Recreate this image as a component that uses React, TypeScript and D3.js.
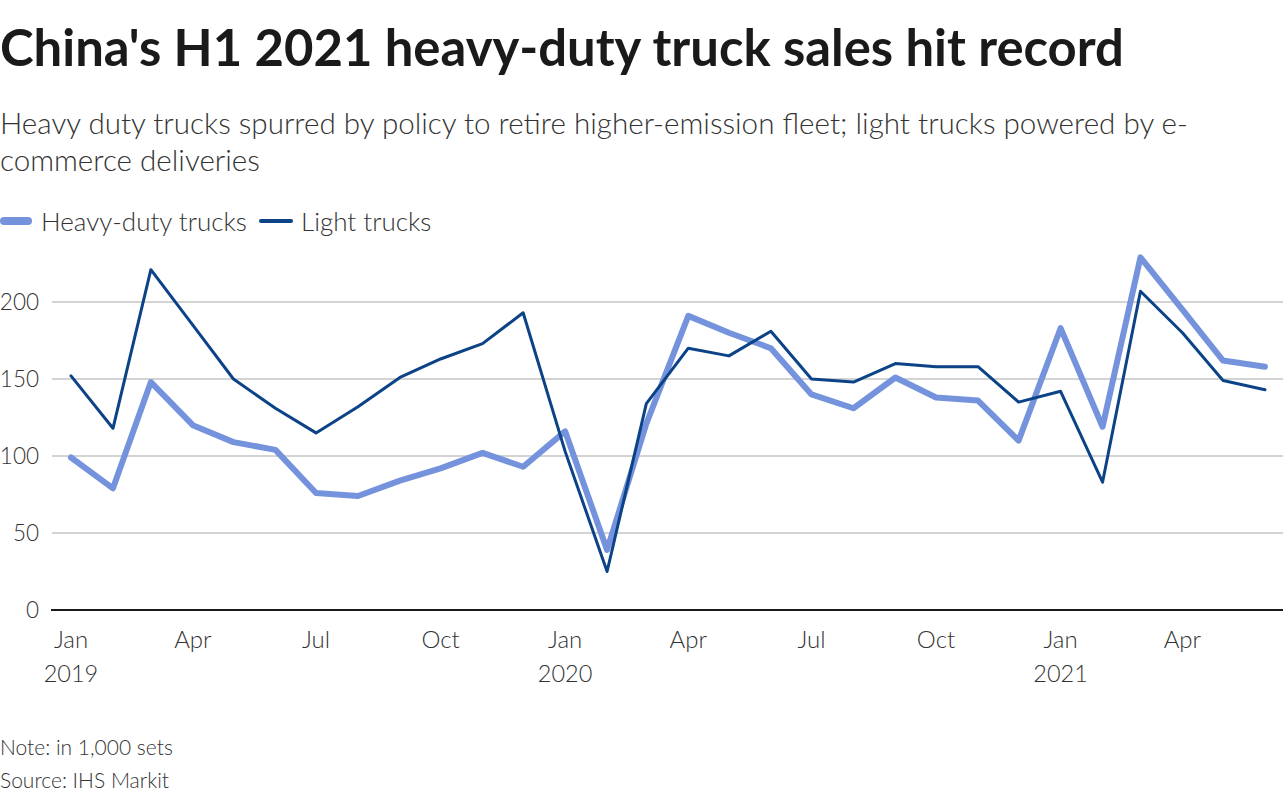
import React from "react";
import * as d3 from "d3";

const months = [
  "2019-01","2019-02","2019-03","2019-04","2019-05","2019-06","2019-07","2019-08","2019-09","2019-10","2019-11","2019-12",
  "2020-01","2020-02","2020-03","2020-04","2020-05","2020-06","2020-07","2020-08","2020-09","2020-10","2020-11","2020-12",
  "2021-01","2021-02","2021-03","2021-04","2021-05","2021-06",
];
const heavyDuty = [
  99, 79, 148, 120, 109, 104, 76, 74, 84, 92, 102, 93,
  116, 39, 121, 191, 180, 170, 140, 131, 151, 138, 136, 110,
  183, 119, 229, 195, 162, 158,
];
const lightTrucks = [
  152, 118, 221, 185, 150, 131, 115, 132, 151, 163, 173, 193,
  103, 25, 134, 170, 165, 181, 150, 148, 160, 158, 158, 135,
  142, 83, 207, 180, 149, 143,
];
const yTicks = [0, 50, 100, 150, 200];
const xTickMonths = ["2019-01","2019-04","2019-07","2019-10","2020-01","2020-04","2020-07","2020-10","2021-01","2021-04"];
const monthNames = ["Jan","Feb","Mar","Apr","May","Jun","Jul","Aug","Sep","Oct","Nov","Dec"];

const FONT = "'Source Sans Pro', Lato, 'Open Sans', sans-serif";

export default function App() {
  const W = 1288, H = 800;
  const parse = d3.timeParse("%Y-%m");
  const dates = months.map((m) => parse(m) as Date);
  const x = d3.scaleTime().domain([dates[0], dates[dates.length - 1]]).range([71, 1265]);
  const y = d3.scaleLinear().domain([0, 200]).range([610, 302]);
  const line = d3.line<number>().x((_, i) => x(dates[i])).y((v) => y(v));

  return (
    <svg width={W} height={H} style={{ position: "absolute", left: 0, top: 0, background: "#fff" }} fontFamily={FONT}>
      <text x={0} y={66} fontSize={50.8} fontWeight={700} fill="#1a1a1a">China's H1 2021 heavy-duty truck sales hit record</text>
      <text x={0} y={134} fontSize={29.6} fontWeight={300} fill="#333">Heavy duty trucks spurred by policy to retire higher-emission fleet; light trucks powered by e-</text>
      <text x={0} y={171} fontSize={29.6} fontWeight={300} fill="#333">commerce deliveries</text>

      <line x1={4} x2={28} y1={221} y2={221} stroke="#7593dc" strokeWidth={8} strokeLinecap="round" />
      <text x={41} y={231} fontSize={26} fontWeight={300} fill="#333">Heavy-duty trucks</text>
      <line x1={261} x2={291} y1={221} y2={221} stroke="#0b4386" strokeWidth={4} strokeLinecap="round" />
      <text x={301} y={231} fontSize={26} fontWeight={300} fill="#333">Light trucks</text>

      {yTicks.filter((t) => t > 0).map((t) => (
        <line key={t} x1={52} x2={1283} y1={y(t)} y2={y(t)} stroke="#c4c4c4" strokeWidth={1.5} />
      ))}
      {yTicks.map((t) => (
        <text key={"l" + t} x={39} y={y(t) + 8} textAnchor="end" fontSize={22.5} fontWeight={300} fill="#333">{t}</text>
      ))}

      <path d={line(heavyDuty) || ""} fill="none" stroke="#7593dc" strokeWidth={6} strokeLinejoin="round" strokeLinecap="round" />
      <path d={line(lightTrucks) || ""} fill="none" stroke="#0b4386" strokeWidth={3} strokeLinejoin="round" strokeLinecap="round" />

      <line x1={51} x2={1283} y1={y(0)} y2={y(0)} stroke="#1a1a1a" strokeWidth={2} />

      {xTickMonths.map((m) => {
        const d = parse(m) as Date;
        const cx = x(d);
        const isJan = d.getMonth() === 0;
        return (
          <g key={m}>
            <text x={cx} y={648} textAnchor="middle" fontSize={24} fontWeight={300} fill="#333">{monthNames[d.getMonth()]}</text>
            {isJan && (
              <text x={cx} y={682} textAnchor="middle" fontSize={23.5} fontWeight={300} fill="#333">{d.getFullYear()}</text>
            )}
          </g>
        );
      })}

      <text x={0} y={755} fontSize={21} fontWeight={300} fill="#333">Note: in 1,000 sets</text>
      <text x={0} y={788} fontSize={21} fontWeight={300} fill="#333">Source: IHS Markit</text>
    </svg>
  );
}
